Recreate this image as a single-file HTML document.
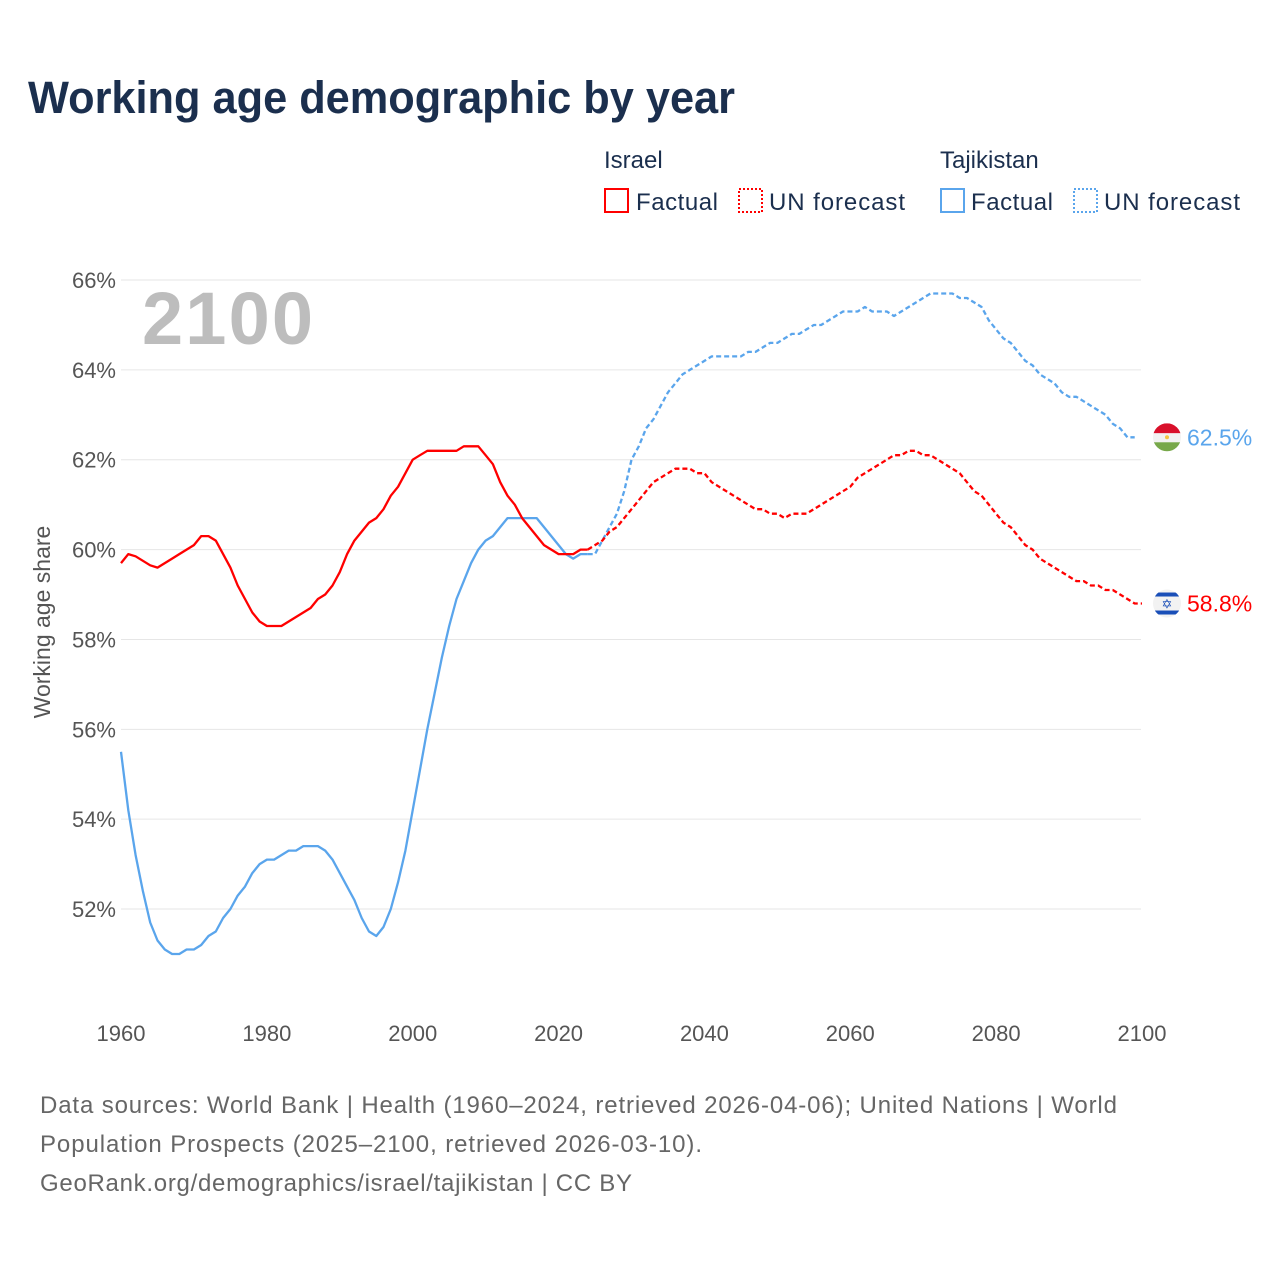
<!DOCTYPE html>
<html><head><meta charset="utf-8">
<style>
body{margin:0;background:#fff;font-family:"Liberation Sans",sans-serif;}
svg text{font-family:"Liberation Sans",sans-serif;}
</style></head>
<body>
<svg id="chart" width="1280" height="1280" viewBox="0 0 1280 1280" xmlns="http://www.w3.org/2000/svg">
<text x="28" y="113" font-size="45" font-weight="bold" fill="#1b2f4e" textLength="707" lengthAdjust="spacingAndGlyphs">Working age demographic by year</text>
<g font-size="24" fill="#1b2f4e">
 <text x="604" y="168">Israel</text>
 <rect x="605" y="189" width="23" height="23" fill="none" stroke="#f00" stroke-width="2"/>
 <text x="636" y="210" textLength="82">Factual</text>
 <rect x="739" y="189" width="23" height="23" fill="none" stroke="#f00" stroke-width="2" stroke-dasharray="2,2"/>
 <text x="769" y="210" textLength="136">UN forecast</text>
 <text x="940" y="168">Tajikistan</text>
 <rect x="941" y="189" width="23" height="23" fill="none" stroke="#5aa5ec" stroke-width="2"/>
 <text x="971" y="210" textLength="82">Factual</text>
 <rect x="1074" y="189" width="23" height="23" fill="none" stroke="#5aa5ec" stroke-width="2" stroke-dasharray="2,2"/>
 <text x="1104" y="210" textLength="136">UN forecast</text>
</g>
<text x="142" y="344" font-size="74" font-weight="bold" fill="#bdbdbd" textLength="171">2100</text>
<text transform="translate(50,622) rotate(-90)" text-anchor="middle" font-size="23" fill="#555">Working age share</text>
<g id="grid"></g><g id="yticks"></g><g id="xticks"></g><g id="series"></g><g id="endlabels"></g>
<g font-size="24" fill="#666">
 <text x="40" y="1113" textLength="1077">Data sources: World Bank | Health (1960–2024, retrieved 2026-04-06); United Nations | World</text>
 <text x="40" y="1152" textLength="662">Population Prospects (2025–2100, retrieved 2026-03-10).</text>
 <text x="40" y="1191" textLength="592">GeoRank.org/demographics/israel/tajikistan | CC BY</text>
</g>
</svg>
<script>
const yTicks=[52,54,56,58,60,62,64,66];
const xTicks=[1960,1980,2000,2020,2040,2060,2080,2100];
const israelFactual=[59.7,59.9,59.85,59.75,59.65,59.6,59.7,59.8,59.9,60.0,60.1,60.3,60.3,60.2,59.9,59.6,59.2,58.9,58.6,58.4,58.3,58.3,58.3,58.4,58.5,58.6,58.7,58.9,59.0,59.2,59.5,59.9,60.2,60.4,60.6,60.7,60.9,61.2,61.4,61.7,62.0,62.1,62.2,62.2,62.2,62.2,62.2,62.3,62.3,62.3,62.1,61.9,61.5,61.2,61.0,60.7,60.5,60.3,60.1,60.0,59.9,59.9,59.9,60.0,60.0];
const israelForecast=[60.0,60.1,60.2,60.4,60.5,60.7,60.9,61.1,61.3,61.5,61.6,61.7,61.8,61.8,61.8,61.7,61.7,61.5,61.4,61.3,61.2,61.1,61.0,60.9,60.9,60.8,60.8,60.7,60.8,60.8,60.8,60.9,61.0,61.1,61.2,61.3,61.4,61.6,61.7,61.8,61.9,62.0,62.1,62.1,62.2,62.2,62.1,62.1,62.0,61.9,61.8,61.7,61.5,61.3,61.2,61.0,60.8,60.6,60.5,60.3,60.1,60.0,59.8,59.7,59.6,59.5,59.4,59.3,59.3,59.2,59.2,59.1,59.1,59.0,58.9,58.8,58.8];
const tajikFactual=[55.5,54.2,53.2,52.4,51.7,51.3,51.1,51.0,51.0,51.1,51.1,51.2,51.4,51.5,51.8,52.0,52.3,52.5,52.8,53.0,53.1,53.1,53.2,53.3,53.3,53.4,53.4,53.4,53.3,53.1,52.8,52.5,52.2,51.8,51.5,51.4,51.6,52.0,52.6,53.3,54.2,55.1,56.0,56.8,57.6,58.3,58.9,59.3,59.7,60.0,60.2,60.3,60.5,60.7,60.7,60.7,60.7,60.7,60.5,60.3,60.1,59.9,59.8,59.9,59.9];
const tajikForecast=[59.9,59.9,60.2,60.5,60.8,61.3,62.0,62.3,62.7,62.9,63.2,63.5,63.7,63.9,64.0,64.1,64.2,64.3,64.3,64.3,64.3,64.3,64.4,64.4,64.5,64.6,64.6,64.7,64.8,64.8,64.9,65.0,65.0,65.1,65.2,65.3,65.3,65.3,65.4,65.3,65.3,65.3,65.2,65.3,65.4,65.5,65.6,65.7,65.7,65.7,65.7,65.6,65.6,65.5,65.4,65.1,64.9,64.7,64.6,64.4,64.2,64.1,63.9,63.8,63.7,63.5,63.4,63.4,63.3,63.2,63.1,63.0,62.8,62.7,62.5,62.5];
const endValues=[62.5,58.8];
const NS='http://www.w3.org/2000/svg';
const X=yr=>121+(yr-1960)*(1021/140);
const Y=v=>549.6-(v-60)*44.93;
function mk(tag,attrs,parent){const e=document.createElementNS(NS,tag);for(const k in attrs)e.setAttribute(k,attrs[k]);parent.appendChild(e);return e;}
const grid=document.getElementById('grid'),yt=document.getElementById('yticks'),xt=document.getElementById('xticks');
yTicks.forEach(v=>{
 const l=mk('line',{x1:121,x2:1141,y1:Y(v),y2:Y(v),stroke:'#e6e6e6','stroke-width':1},grid);
 
 
 const t=mk('text',{x:116,y:Y(v)+8,'text-anchor':'end','font-size':22,fill:'#555'},yt);
 t.textContent=v+'%';
 
 
});
xTicks.forEach(yr=>{
 const t=mk('text',{x:X(yr),y:1041,'text-anchor':'middle','font-size':22,fill:'#555'},xt);
 t.textContent=yr;
 
 
});
const ser=document.getElementById('series');
function line(arr,start,color,dash,name){
 const d=arr.map((v,i)=>(i?'L':'M')+X(start+i).toFixed(1)+','+Y(v).toFixed(1)).join('');
 const p=mk('path',{d:d,fill:'none',stroke:color,'stroke-width':2.3,'stroke-linejoin':'round'},ser);
 if(dash)p.setAttribute('stroke-dasharray','5,3');
 
 
}
line(tajikFactual,1960,'#5aa5ec',false,'tajikistan-factual-line');
line(israelFactual,1960,'#f00',false,'israel-factual-line');
line(tajikForecast,2024,'#5aa5ec',true,'tajikistan-forecast-line');
line(israelForecast,2024,'#f00',true,'israel-forecast-line');
const el=document.getElementById('endlabels');
const cx=1167;
let g=mk('g',{},el);


let yy=Y(endValues[0]);
mk('clipPath',{id:'c1'},g).appendChild(document.createElementNS(NS,'circle'));
const c1=g.querySelector('#c1 circle');c1.setAttribute('cx',cx);c1.setAttribute('cy',yy);c1.setAttribute('r',14);
const gc1=mk('g',{'clip-path':'url(#c1)'},g);
mk('rect',{x:cx-14,y:yy-14,width:28,height:10,fill:'#d9102b'},gc1);
mk('rect',{x:cx-14,y:yy-4,width:28,height:9,fill:'#f2f2f2'},gc1);
mk('rect',{x:cx-14,y:yy+5,width:28,height:10,fill:'#77a84a'},gc1);
mk('circle',{cx:cx,cy:yy,r:2,fill:'#f5c542'},gc1);
let t=mk('text',{x:1187,y:yy+8,'font-size':23,fill:'#5aa5ec'},el);
t.textContent=endValues[0].toFixed(1)+'%';


g=mk('g',{},el);


yy=Y(endValues[1]);
mk('clipPath',{id:'c2'},g).appendChild(document.createElementNS(NS,'circle'));
const c2=g.querySelector('#c2 circle');c2.setAttribute('cx',cx);c2.setAttribute('cy',yy);c2.setAttribute('r',14);
const gc2=mk('g',{'clip-path':'url(#c2)'},g);
mk('rect',{x:cx-14,y:yy-14,width:28,height:28,fill:'#f2f2f2'},gc2);
mk('rect',{x:cx-14,y:yy-11,width:28,height:4,fill:'#1a4fb8'},gc2);
mk('rect',{x:cx-14,y:yy+7,width:28,height:4,fill:'#1a4fb8'},gc2);
let s=mk('text',{x:cx,y:yy+5,'text-anchor':'middle','font-size':13,fill:'#1a4fb8'},gc2);s.textContent='✡';
t=mk('text',{x:1187,y:yy+8,'font-size':23,fill:'#f00'},el);
t.textContent=endValues[1].toFixed(1)+'%';


</script>
</body></html>
